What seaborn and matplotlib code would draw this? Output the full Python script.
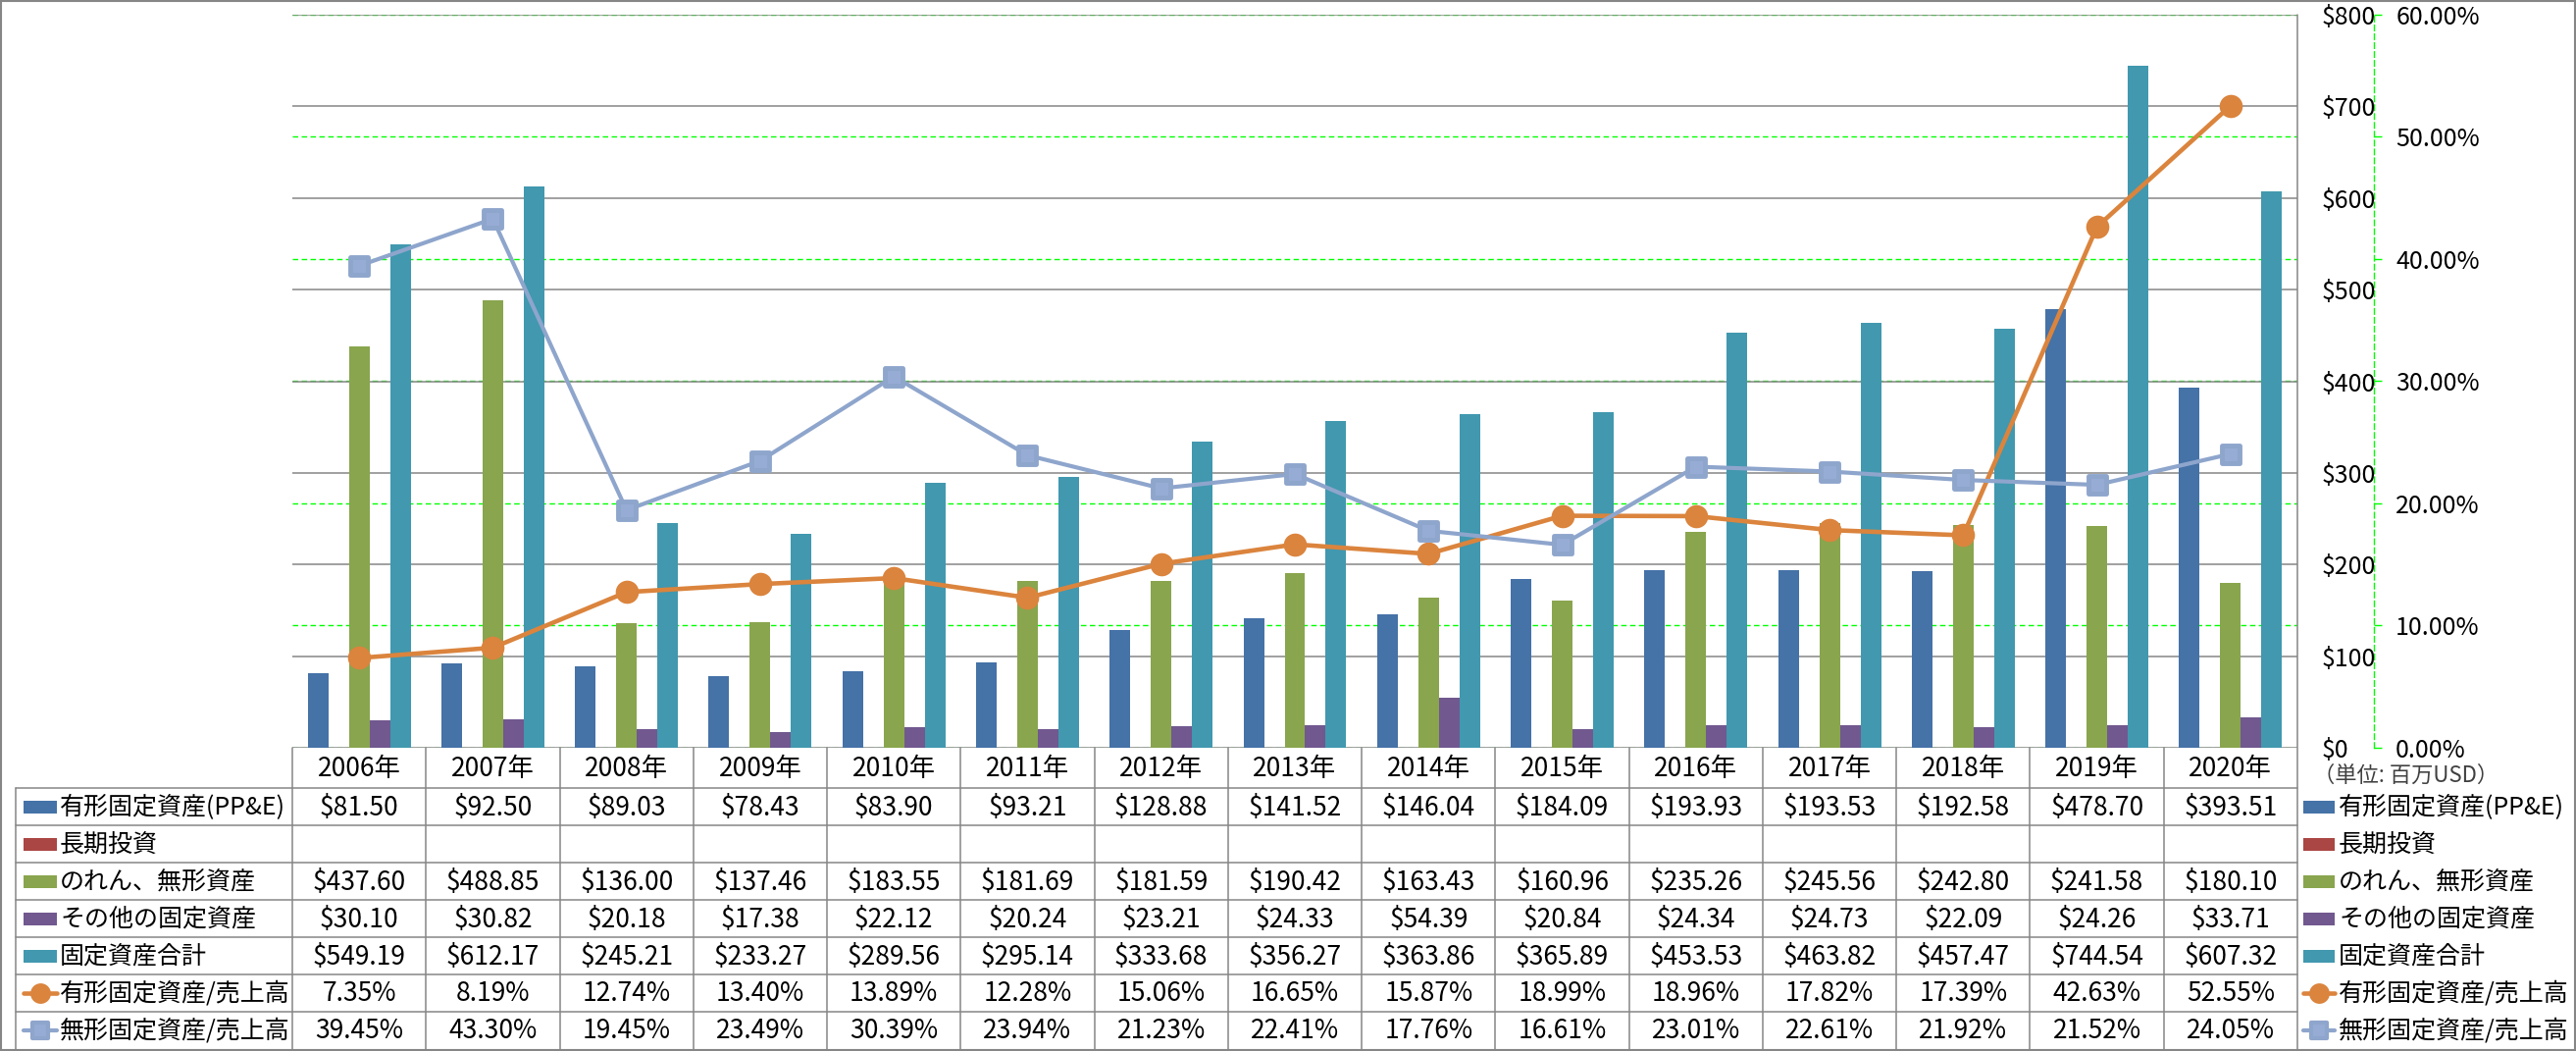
import numpy as np
import pandas as pd
import matplotlib
matplotlib.use("Agg")
import matplotlib.pyplot as plt
import seaborn as sns
from matplotlib.lines import Line2D
from matplotlib.patches import Rectangle
from matplotlib.markers import MarkerStyle

# ---------------- data ----------------
years = ["2006年", "2007年", "2008年", "2009年", "2010年", "2011年", "2012年", "2013年",
         "2014年", "2015年", "2016年", "2017年", "2018年", "2019年", "2020年"]
ppe = [81.50, 92.50, 89.03, 78.43, 83.90, 93.21, 128.88, 141.52, 146.04, 184.09,
       193.93, 193.53, 192.58, 478.70, 393.51]
long_term_inv = [np.nan] * 15
goodwill = [437.60, 488.85, 136.00, 137.46, 183.55, 181.69, 181.59, 190.42, 163.43, 160.96,
            235.26, 245.56, 242.80, 241.58, 180.10]
other_fixed = [30.10, 30.82, 20.18, 17.38, 22.12, 20.24, 23.21, 24.33, 54.39, 20.84,
               24.34, 24.73, 22.09, 24.26, 33.71]
total_fixed = [549.19, 612.17, 245.21, 233.27, 289.56, 295.14, 333.68, 356.27, 363.86, 365.89,
               453.53, 463.82, 457.47, 744.54, 607.32]
ppe_ratio = [7.35, 8.19, 12.74, 13.40, 13.89, 12.28, 15.06, 16.65, 15.87, 18.99,
             18.96, 17.82, 17.39, 42.63, 52.55]
intangible_ratio = [39.45, 43.30, 19.45, 23.49, 30.39, 23.94, 21.23, 22.41, 17.76, 16.61,
                    23.01, 22.61, 21.92, 21.52, 24.05]

bar_names = ["有形固定資産(PP&E)", "長期投資", "のれん、無形資産", "その他の固定資産", "固定資産合計"]
line_names = ["有形固定資産/売上高", "無形固定資産/売上高"]
bar_colors = ["#4572A7", "#AA4643", "#89A54E", "#71588F", "#4198AF"]
line_colors = ["#DB843D", "#8EA5CC"]
unit_label = "（単位: 百万USD）"

# ---------------- style ----------------
sns.set_theme(style="white")
plt.rcParams['font.family'] = ['Noto Sans CJK JP', 'DejaVu Sans']
plt.rcParams['axes.unicode_minus'] = False

W, H = 2626, 1071
fig = plt.figure(figsize=(W / 100, H / 100), dpi=100)
fig.patch.set_facecolor("white")

L, R, T, B = 298, 2342, 15, 762
rect = [L / W, 1 - B / H, (R - L) / W, (B - T) / H]
GRAY = "#868686"
GREEN = "#00FF00"
FS_NUM = 19
FS_AX = 18
FS_LAB = 18

# ---------------- bars ----------------
ax = fig.add_axes(rect)
wide = pd.DataFrame({"year": years, bar_names[0]: ppe, bar_names[1]: long_term_inv,
                     bar_names[2]: goodwill, bar_names[3]: other_fixed, bar_names[4]: total_fixed})
long_df = wide.melt(id_vars="year", var_name="series", value_name="value")
sns.barplot(data=long_df, x="year", y="value", hue="series", order=years, hue_order=bar_names,
            palette=bar_colors, width=0.77, saturation=1, errorbar=None, legend=False,
            linewidth=0, ax=ax)

# ---------------- percent axis (behind bars) ----------------
ax_pct = ax.twinx()
ax_pct.set_ylim(0, 60)
pct_ticks = np.arange(0, 61, 10)
ax_pct.set_yticks(pct_ticks)
ax_pct.set_yticklabels([f"{v:.2f}%" for v in pct_ticks])
for k, s in ax_pct.spines.items():
    s.set_visible(k == "right")
ax_pct.spines["right"].set_position(("axes", (2420 - L) / (R - L)))
ax_pct.spines["right"].set_color(GREEN)
ax_pct.spines["right"].set_linestyle((0, (4, 2.5)))
ax_pct.spines["right"].set_linewidth(1)
ax_pct.tick_params(axis="y", colors=GREEN, length=6, width=1, pad=10, direction="out",
                   labelsize=FS_AX, labelcolor="black")
ax_pct.grid(axis="y", color=GREEN, ls=(0, (4, 2.5)), lw=1)
ax_pct.grid(axis="x", visible=False)
ax_pct.set_zorder(0)

# primary axis settings (after twinx, which resets tick side)
ax.set_zorder(1)
ax.set_xlim(-0.5, len(years) - 0.5)
ax.set_ylim(0, 800)
ax.set_yticks(np.arange(0, 801, 100))
ax.set_yticklabels([f"${v}" for v in np.arange(0, 801, 100)])
ax.yaxis.tick_right()
ax.yaxis.set_label_position("right")
ax.tick_params(axis="y", which="both", left=False, right=False, labelleft=False,
               labelright=True, length=0, pad=18, labelsize=FS_AX, labelcolor="black")
ax.set_xticks([])
ax.set_xlabel("")
ax.set_ylabel("")
for s in ax.spines.values():
    s.set_visible(False)
ax.grid(axis="y", color=GRAY, lw=1.1)
ax.grid(axis="x", visible=False)
ax.set_axisbelow(True)
ax.patch.set_visible(False)

# ---------------- lines (above bars) ----------------
ax_lines = fig.add_axes(rect, sharex=ax, sharey=ax_pct)
ax_lines.set_zorder(2)
ax_lines.patch.set_visible(False)
line_df = pd.DataFrame({"pos": np.arange(len(years)), "ppe_ratio": ppe_ratio,
                        "intangible_ratio": intangible_ratio})
sns.lineplot(data=line_df, x="pos", y="ppe_ratio", ax=ax_lines, color=line_colors[0],
             lw=3.3, marker="o", markersize=17, markeredgewidth=0,
             markerfacecolor=line_colors[0])
sns.lineplot(data=line_df, x="pos", y="intangible_ratio", ax=ax_lines, color=line_colors[1],
             lw=3.0, marker=MarkerStyle("s", joinstyle="round"), markersize=13.5,
             markeredgewidth=3.5, markeredgecolor=line_colors[1], markerfacecolor="#97ACD4")
ax_lines.set_xlim(-0.5, len(years) - 0.5)
ax_lines.set_ylim(0, 60)
ax_lines.set_axis_off()

# ---------------- table & legends (overlay) ----------------
ov = fig.add_axes([0, 0, 1, 1])
ov.set_xlim(0, W)
ov.set_ylim(H, 0)
ov.set_axis_off()
ov.set_zorder(5)
ov.patch.set_visible(False)

ov.add_patch(Rectangle((0.8, 0.8), W - 1.6, H - 1.6, fill=False, ec=GRAY, lw=1.5))
ov.plot([R, R], [T, H - 1], color=GRAY, lw=1.1)

ncol = len(years)
colw = (R - L) / ncol
hdr_bot = 803
rowh = 38
nrows = 7
tbl_left = 16
for i in range(nrows + 1):
    y = hdr_bot + i * rowh if i < nrows else H - 1.5
    ov.plot([tbl_left, R], [y, y], color=GRAY, lw=1.1)
ov.plot([tbl_left, tbl_left], [hdr_bot, H - 1], color=GRAY, lw=1.1)
for k in range(ncol):
    x = L + k * colw
    ov.plot([x, x], [B, H - 1], color=GRAY, lw=1.1)

# header
for k, yr in enumerate(years):
    ov.text(L + (k + 0.5) * colw, (B + hdr_bot) / 2 + 1, yr, ha="center", va="center",
            fontsize=FS_NUM, color="black")

rows_vals = [
    [f"${v:.2f}" for v in ppe],
    ["" if np.isnan(v) else f"${v:.2f}" for v in long_term_inv],
    [f"${v:.2f}" for v in goodwill],
    [f"${v:.2f}" for v in other_fixed],
    [f"${v:.2f}" for v in total_fixed],
    [f"{v:.2f}%" for v in ppe_ratio],
    [f"{v:.2f}%" for v in intangible_ratio],
]
row_names = bar_names + line_names


def draw_key(x0, x1, yc, idx):
    if idx < 5:
        ov.add_patch(Rectangle((x0, yc - 6.5), x1 - x0, 13, color=bar_colors[idx], lw=0))
    elif idx == 5:
        ov.add_line(Line2D([x0, x1], [yc, yc], color=line_colors[0], lw=3.3))
        ov.add_line(Line2D([(x0 + x1) / 2], [yc], marker="o", markersize=15,
                           markeredgewidth=0, color=line_colors[0]))
    else:
        ov.add_line(Line2D([x0, x1], [yc, yc], color=line_colors[1], lw=3.0))
        ov.add_line(Line2D([(x0 + x1) / 2], [yc], marker=MarkerStyle("s", joinstyle="round"),
                           markersize=12, markeredgewidth=3, markeredgecolor=line_colors[1],
                           markerfacecolor="#97ACD4"))


for i in range(nrows):
    yc = hdr_bot + (i + 0.5) * rowh
    draw_key(24, 58, yc, i)
    ov.text(61, yc + 1, row_names[i], ha="left", va="center", fontsize=FS_LAB, color="black")
    for k in range(ncol):
        ov.text(L + (k + 0.5) * colw, yc + 1, rows_vals[i][k], ha="center", va="center",
                fontsize=FS_NUM, color="black")
    # right legend
    draw_key(2348, 2380, yc, i)
    ov.text(2384, yc + 1, row_names[i], ha="left", va="center", fontsize=FS_LAB, color="black")

ov.text(2358, 790, unit_label, ha="left", va="center", fontsize=16, color="#404040")

fig.savefig("out.png", dpi=100, facecolor="white")
